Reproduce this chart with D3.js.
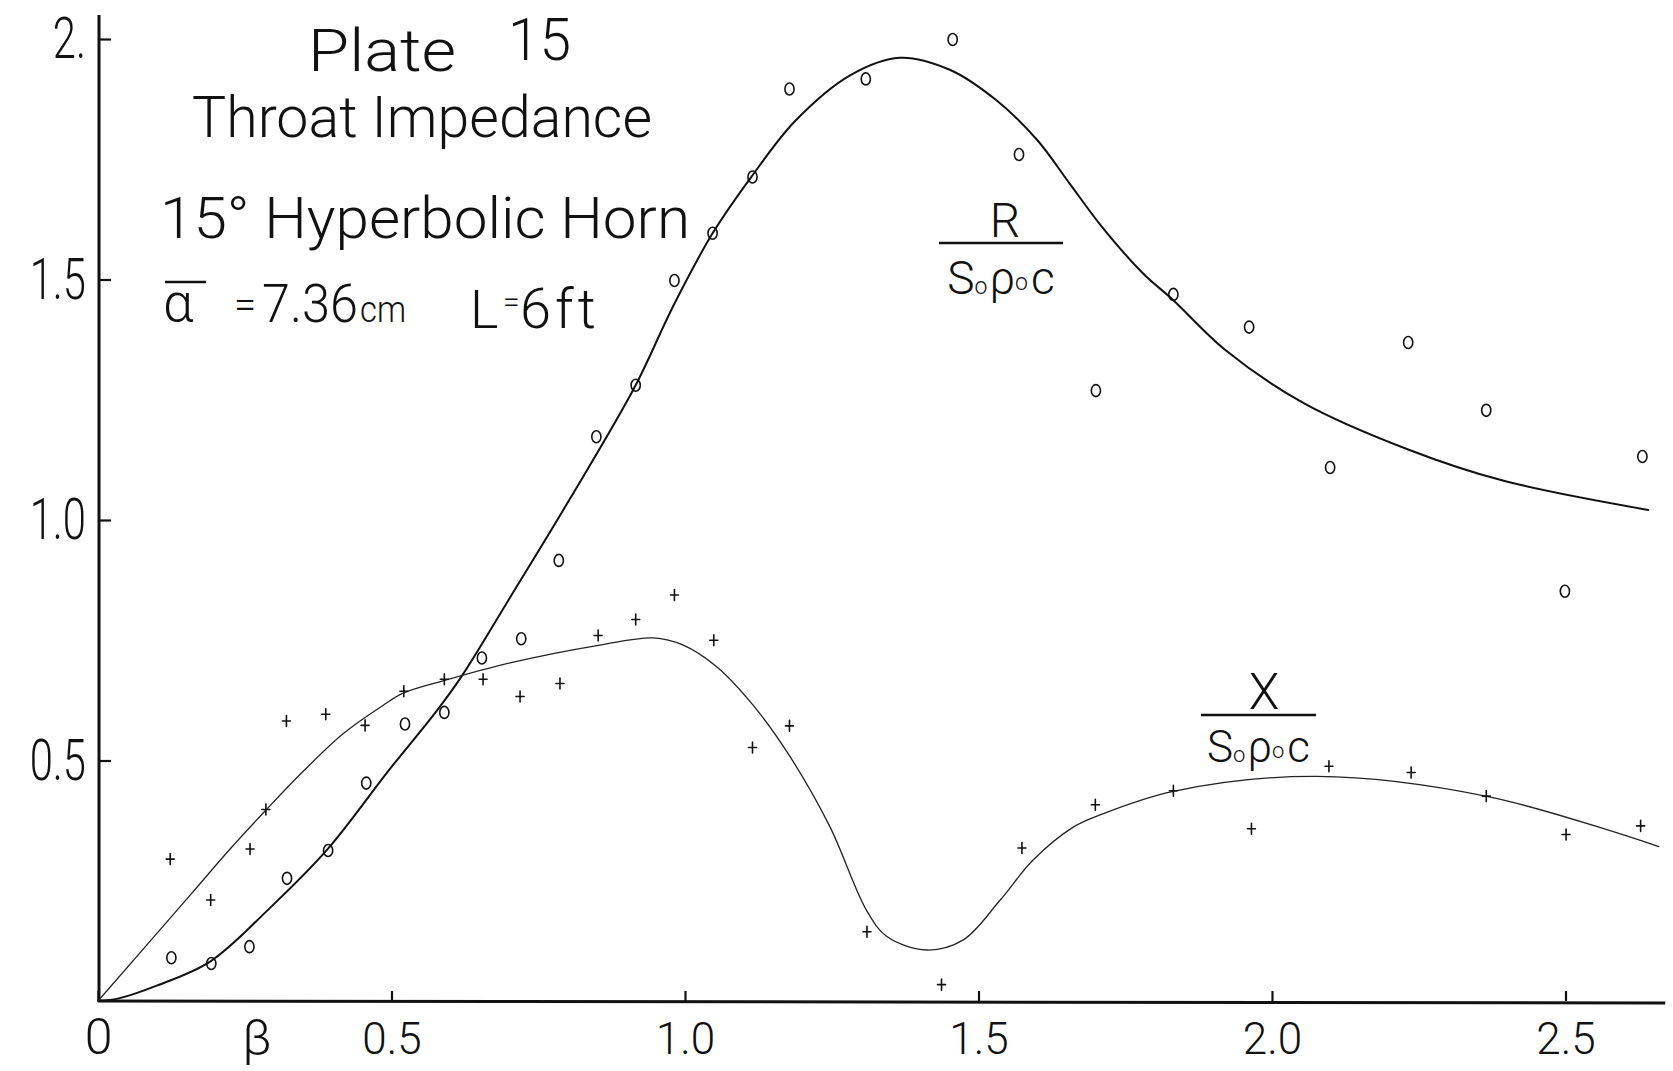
<!DOCTYPE html>
<html>
<head>
<meta charset="utf-8">
<title>Plate 15 – Throat Impedance</title>
<script src="https://cdn.jsdelivr.net/npm/d3@7"></script>
<style>
  html, body { margin: 0; padding: 0; background: #fff; }
  svg { display: block; }
  text { font-family: Roboto, "Liberation Sans", "DejaVu Sans", sans-serif; font-weight: 300; fill: #111; }
</style>
</head>
<body>
<svg id="chart" width="1673" height="1071"></svg>
<script>
// Measured resistance R/(S0 ρ0 c) against β
const betaR = [0.125, 0.193, 0.258, 0.322, 0.392, 0.457, 0.523, 0.590, 0.654, 0.721, 0.785, 0.849,
               0.916, 0.982, 1.047, 1.115, 1.178, 1.308, 1.456, 1.569, 1.700, 1.832, 1.961, 2.099,
               2.232, 2.365, 2.499, 2.631];
const rValues = [0.090, 0.078, 0.113, 0.255, 0.313, 0.453, 0.576, 0.600, 0.713, 0.753, 0.916, 1.173,
                 1.280, 1.498, 1.596, 1.713, 1.896, 1.917, 1.999, 1.760, 1.269, 1.469, 1.401, 1.109,
                 1.369, 1.228, 0.852, 1.132];

// Measured reactance X/(S0 ρ0 c) against β
const betaX = [0.123, 0.192, 0.259, 0.286, 0.321, 0.388, 0.455, 0.521, 0.590, 0.656, 0.719, 0.787,
               0.852, 0.916, 0.982, 1.049, 1.115, 1.178, 1.310, 1.437, 1.574, 1.699, 1.832, 1.965,
               2.097, 2.237, 2.365, 2.501, 2.628];
const xValues = [0.295, 0.210, 0.316, 0.398, 0.582, 0.596, 0.573, 0.644, 0.669, 0.669, 0.633, 0.660,
                 0.760, 0.793, 0.844, 0.750, 0.527, 0.572, 0.144, 0.034, 0.318, 0.408, 0.437, 0.358,
                 0.488, 0.475, 0.426, 0.346, 0.364];

// Faired curve through the resistance readings
const rCurveBeta = [0.0, 0.037, 0.10, 0.191, 0.290, 0.390, 0.497, 0.575, 0.620, 0.701, 0.804, 0.915,
                    0.980, 1.047, 1.114, 1.188, 1.282, 1.366, 1.451, 1.530, 1.600, 1.655, 1.710, 1.780,
                    1.831, 1.921, 2.054, 2.233, 2.390, 2.641];
const rCurveValues = [0.0, 0.006, 0.032, 0.082, 0.190, 0.314, 0.482, 0.600, 0.676, 0.837, 1.044, 1.278,
                      1.445, 1.596, 1.715, 1.830, 1.925, 1.961, 1.936, 1.873, 1.790, 1.700, 1.610, 1.513,
                      1.458, 1.353, 1.243, 1.146, 1.083, 1.021];

// Faired curve through the reactance readings
const xCurveBeta = [0.0, 0.157, 0.225, 0.287, 0.350, 0.418, 0.486, 0.520, 0.589, 0.702, 0.855, 0.946,
                    0.997, 1.054, 1.116, 1.179, 1.247, 1.309, 1.344, 1.412, 1.474, 1.537, 1.593, 1.662,
                    1.707, 1.832, 2.076, 2.368, 2.659];
const xCurveValues = [0.0, 0.220, 0.316, 0.398, 0.478, 0.556, 0.615, 0.640, 0.666, 0.703, 0.740, 0.755,
                      0.740, 0.695, 0.615, 0.508, 0.362, 0.189, 0.134, 0.106, 0.127, 0.210, 0.293, 0.362,
                      0.387, 0.436, 0.467, 0.425, 0.321];

// Axis ticks and their hand-lettered labels
const xTicks = [0, 0.5, 1.0, 1.5, 2.0, 2.5];
const xTickLabels = ["0", "0.5", "1.0", "1.5", "2.0", "2.5"];
const yTicks = [0.5, 1.0, 1.5, 2.0];
const yTickLabels = ["0.5", "1.0", "1.5", "2."];

const svg = d3.select("#chart");
const ink = "#111";
const face = "Roboto, 'Liberation Sans', 'DejaVu Sans', sans-serif";

const x = d3.scaleLinear().domain([0, 2.5]).range([98, 1565.5]);
const y = d3.scaleLinear().domain([0, 2]).range([1001, 39]);

// Axis lines run a little past the last tick
svg.append("line")
  .attr("x1", x(0)).attr("x2", x(2.67))
  .attr("y1", y(0)).attr("y2", y(0) + 2)
  .attr("stroke", ink).attr("stroke-width", 3);
svg.append("line")
  .attr("x1", x(0) + 1).attr("x2", x(0) + 1)
  .attr("y1", y(0)).attr("y2", y(2.05))
  .attr("stroke", ink).attr("stroke-width", 3);

// Bottom axis: short ticks pointing into the plot
const gx = svg.append("g")
  .attr("transform", `translate(0,${y(0)})`)
  .call(d3.axisBottom(x)
    .tickValues(xTicks)
    .tickSizeInner(-10).tickSizeOuter(0).tickPadding(22)
    .tickFormat((d, i) => xTickLabels[i]));
gx.select(".domain").remove();
gx.selectAll(".tick line").attr("stroke", ink).attr("stroke-width", 2.2);
gx.selectAll(".tick text")
  .attr("font-size", 44).attr("fill", ink)
  .style("font-family", face).style("font-weight", 300);
gx.selectAll(".tick").filter(d => d === 0).select("text")
  .attr("font-size", 50).attr("y", 17);

// Left axis
const gy = svg.append("g")
  .attr("transform", `translate(${x(0) + 1},0)`)
  .call(d3.axisLeft(y)
    .tickValues(yTicks)
    .tickSizeInner(-12).tickSizeOuter(0).tickPadding(13)
    .tickFormat((d, i) => yTickLabels[i]));
gy.select(".domain").remove();
gy.selectAll(".tick line").attr("stroke", ink).attr("stroke-width", 2.2);
gy.selectAll(".tick text")
  .attr("font-size", 58).attr("fill", ink)
  .style("font-family", face).style("font-weight", 300)
  .each(function () {
    const w = this.getComputedTextLength();
    d3.select(this).attr("textLength", w * 0.72).attr("lengthAdjust", "spacingAndGlyphs");
  });

// β marks the abscissa
svg.append("text")
  .attr("x", 257).attr("y", 1055)
  .attr("text-anchor", "middle")
  .attr("font-size", 50)
  .text("β");

// Curves
const line = d3.line()
  .x(d => x(d[0]))
  .y(d => y(d[1]))
  .curve(d3.curveCatmullRom.alpha(0.5));

svg.append("path")
  .datum(rCurveBeta.map((b, i) => [b, rCurveValues[i]]))
  .attr("d", line)
  .attr("fill", "none").attr("stroke", ink).attr("stroke-width", 2)
  .attr("stroke-linecap", "round");

svg.append("path")
  .datum(xCurveBeta.map((b, i) => [b, xCurveValues[i]]))
  .attr("d", line)
  .attr("fill", "none").attr("stroke", "#222").attr("stroke-width", 1.3)
  .attr("stroke-linecap", "round");

// Resistance readings: small open rings
svg.append("g").selectAll("ellipse")
  .data(betaR.map((b, i) => [b, rValues[i]]))
  .join("ellipse")
  .attr("cx", d => x(d[0])).attr("cy", d => y(d[1]))
  .attr("rx", 4.6).attr("ry", 6)
  .attr("fill", "none").attr("stroke", ink).attr("stroke-width", 1.6);

// Reactance readings: small crosses
svg.append("g").selectAll("path")
  .data(betaX.map((b, i) => [b, xValues[i]]))
  .join("path")
  .attr("transform", d => `translate(${x(d[0])},${y(d[1])})`)
  .attr("d", "M-4,0H4M0,-5.5V5.5")
  .attr("fill", "none").attr("stroke", ink).attr("stroke-width", 1.6)
  .attr("stroke-linecap", "round");

// Title block
function fitted(sel, width) {
  return sel.attr("textLength", width).attr("lengthAdjust", "spacingAndGlyphs");
}
fitted(svg.append("text").attr("x", 308).attr("y", 71).attr("font-size", 60).text("Plate"), 148);
fitted(svg.append("text").attr("x", 508).attr("y", 60).attr("font-size", 60).text("15"), 63);

fitted(svg.append("text").attr("x", 192).attr("y", 137).attr("font-size", 57)
  .text("Throat Impedance"), 460);

fitted(svg.append("text").attr("x", 160).attr("y", 238).attr("font-size", 58)
  .text("15° Hyperbolic Horn"), 530);

// Mean flare constant and horn length
svg.append("line")
  .attr("x1", 165).attr("x2", 206).attr("y1", 282).attr("y2", 282)
  .attr("stroke", ink).attr("stroke-width", 2.5);
svg.append("text").attr("x", 163).attr("y", 321).attr("font-size", 54).text("α");
svg.append("text").attr("x", 234).attr("y", 318).attr("font-size", 40).text("=");
fitted(svg.append("text").attr("x", 262).attr("y", 322).attr("font-size", 54).text("7.36"), 96);
fitted(svg.append("text").attr("x", 360).attr("y", 322).attr("font-size", 36).text("cm"), 46);
svg.append("text").attr("x", 470).attr("y", 328).attr("font-size", 54).text("L");
svg.append("text").attr("x", 503).attr("y", 312).attr("font-size", 30).text("=");
svg.append("text").attr("x", 520).attr("y", 328).attr("font-size", 56).attr("letter-spacing", 4).text("6ft");

// Curve legends written as fractions
function fraction(cx, numer, barY, barX1, barX2, numSize, denBase, denSize) {
  svg.append("text")
    .attr("x", cx).attr("y", barY - 6)
    .attr("text-anchor", "middle").attr("font-size", numSize)
    .text(numer);
  svg.append("line")
    .attr("x1", barX1).attr("x2", barX2).attr("y1", barY).attr("y2", barY)
    .attr("stroke", ink).attr("stroke-width", 2.6);
  const den = svg.append("text")
    .attr("x", (barX1 + barX2) / 2).attr("y", denBase)
    .attr("text-anchor", "middle").attr("font-size", denSize);
  den.append("tspan").text("S");
  den.append("tspan").attr("font-size", denSize * 0.5).text("o");
  den.append("tspan").attr("dx", 2).text("ρ");
  den.append("tspan").attr("font-size", denSize * 0.5).attr("dy", -4).text("o");
  den.append("tspan").attr("dy", 4).attr("dx", 3).text("c");
}
fraction(1005, "R", 243, 939, 1063, 48, 294, 46);
fraction(1264, "X", 715, 1201, 1316, 50, 762, 44);
</script>
</body>
</html>
